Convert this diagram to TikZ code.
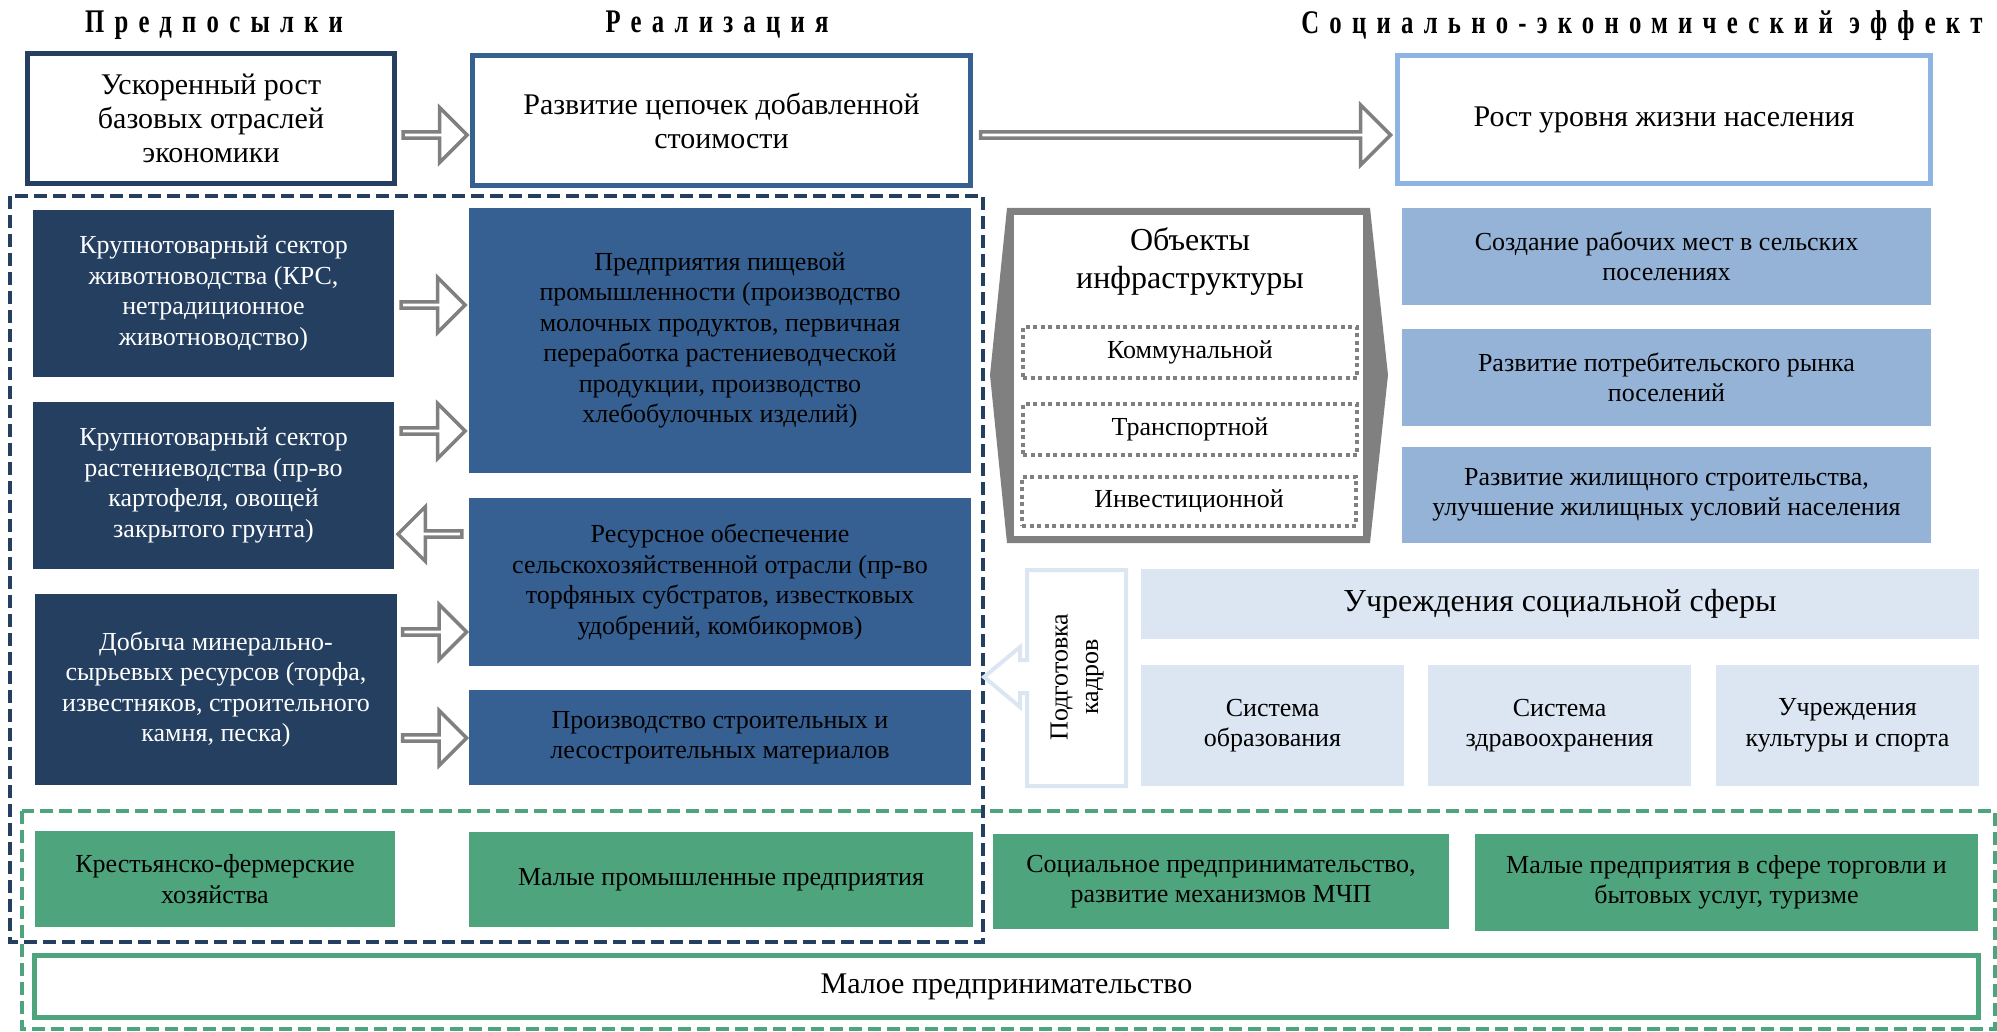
\documentclass[tikz,border=0pt]{standalone}
\usepackage{fontspec}
\setmainfont{Liberation Serif}
\newfontfamily\headfont[LetterSpace=31,FakeStretch=0.75]{Liberation Serif}
\usepackage{tikz}
\usetikzlibrary{shapes.arrows}
\usetikzlibrary{calc}

\definecolor{navy}{HTML}{243F60}
\definecolor{midblue}{HTML}{376092}
\definecolor{skyblue}{HTML}{95B3D7}
\definecolor{paleblue}{HTML}{DCE6F2}
\definecolor{rimblue}{HTML}{8DB4E2}
\definecolor{leafgreen}{HTML}{4EA47C}
\definecolor{arrowgray}{HTML}{808080}

\newcommand{\bodyfont}{\fontsize{26}{30.5}\selectfont}
\newcommand{\bigfont}{\fontsize{30}{34}\selectfont}

\begin{document}
\begin{tikzpicture}[x=1pt, y=-1pt,
  heading/.style={font=\headfont\bfseries\fontsize{33}{36}\selectfont, inner sep=0pt},
  topbox/.style={draw, line width=5pt, fill=white, align=center, inner sep=0pt, font=\bigfont},
  darkbox/.style={fill=navy, text=white, align=center, inner sep=0pt, font=\bodyfont},
  bluebox/.style={fill=midblue, align=center, inner sep=0pt, font=\bodyfont},
  skybox/.style={fill=skyblue, align=center, inner sep=0pt, font=\bodyfont},
  palebox/.style={fill=paleblue, align=center, inner sep=0pt, font=\bodyfont},
  greenbox/.style={fill=leafgreen, align=center, inner sep=0pt, font=\bodyfont},
  dotbox/.style={draw=arrowgray, line width=4pt, dash pattern=on 4pt off 3.5pt, align=center, inner sep=0pt, font=\bodyfont},
  blockarrow/.style={single arrow, draw=arrowgray, fill=white, line width=3.5pt, inner sep=0pt, minimum width=55pt, minimum height=64pt, single arrow head extend=14pt}
]

\useasboundingbox (0,0) rectangle (1997,1032);

% Column headings
\node[heading] (h1) at (214,25) {Предпосылки};
\node[heading] (h2) at (717,25) {Реализация};
\node[heading] (h3) at (1642,26) {Социально-экономический эффект};

% Top row
\node[topbox, draw=navy, minimum width=367pt, minimum height=130pt] (b1) at (211,118.5) {Ускоренный рост\\базовых отраслей\\экономики};
\node[topbox, draw=midblue, minimum width=498pt, minimum height=130pt] (b2) at (721.5,120.5) {Развитие цепочек добавленной\\стоимости};
\node[topbox, draw=rimblue, minimum width=533pt, minimum height=128pt] (b3) at (1664,119.5) {Рост уровня жизни населения};

\path (b1.east |- 0,135) -- node[blockarrow] (a1) {} (b2.west |- 0,135);
\path (b2.east |- 0,135) -- node[blockarrow, minimum height=410pt, minimum width=60pt, single arrow head extend=14.5pt] (a2) {} (b3.west |- 0,135);

% Dashed frames
\draw[leafgreen, line width=4pt, dash pattern=on 13pt off 6pt] (22,811) rectangle (1995,1029);
\draw[navy, line width=4.5pt, dash pattern=on 13pt off 6pt] (10,196) rectangle (983,942);

% Base sectors
\node[darkbox, minimum width=361pt, minimum height=167pt] (d1) at (213.5,293.5) {Крупнотоварный сектор\\животноводства (КРС,\\нетрадиционное\\животноводство)};
\node[darkbox, minimum width=361pt, minimum height=167pt] (d2) at (213.5,485.5) {Крупнотоварный сектор\\растениеводства (пр-во\\картофеля, овощей\\закрытого грунта)};
\node[darkbox, minimum width=362pt, minimum height=191pt] (d3) at (216,689.5) {Добыча минерально-\\сырьевых ресурсов (торфа,\\известняков, строительного\\камня, песка)};

% Value chains
\node[bluebox, minimum width=502pt, minimum height=265pt] (e1) at (720,340.5) {Предприятия пищевой\\промышленности (производство\\молочных продуктов, первичная\\переработка растениеводческой\\продукции, производство\\хлебобулочных изделий)};
\node[bluebox, minimum width=502pt, minimum height=168pt] (e2) at (720,582) {Ресурсное обеспечение\\сельскохозяйственной отрасли (пр-во\\торфяных субстратов, известковых\\удобрений, комбикормов)};
\node[bluebox, minimum width=502pt, minimum height=95pt] (e3) at (720,737.5) {Производство строительных и\\лесостроительных материалов};

\foreach \lft/\rgt/\yy/\rot in {d1/e1/305/0, d2/e1/431/0, d2/e2/534/180, d3/e2/632/0, d3/e3/738/0}
{
    \path (\lft.east |- 0,\yy) -- node[blockarrow, rotate=\rot] (arr\yy) {} (\rgt.west |- 0,\yy);
}

% Infrastructure
\fill[arrowgray] (1007,208) -- (1370,208) -- (1388,375) -- (1370,543) -- (1007,543) -- (990,375) -- cycle;
\fill[white] (1014,215) rectangle (1363,536);
\node[font=\fontsize{32}{38}\selectfont, align=center] (obj) at (1190,262) {Объекты\\инфраструктуры};
\node[dotbox, minimum width=334pt, minimum height=51pt] (k) at (1190,352.5) {Коммунальной};
\node[dotbox, minimum width=334pt, minimum height=51pt] (t) at (1190,429.5) {Транспортной};
\node[dotbox, minimum width=334pt, minimum height=49pt] (i) at (1189,501) {Инвестиционной};

% Effects
\node[skybox, minimum width=529pt, minimum height=97pt] (s1) at (1666.5,256.5) {Создание рабочих мест в сельских\\поселениях};
\node[skybox, minimum width=529pt, minimum height=97pt] (s2) at (1666.5,377.5) {Развитие потребительского рынка\\поселений};
\node[skybox, minimum width=529pt, minimum height=96pt] (s3) at (1666.5,495) {Развитие жилищного строительства,\\улучшение жилищных условий населения};

% Social sphere
\draw[paleblue, line width=4pt, fill=white] (1027,570) -- (1126,570) -- (1126,786) -- (1027,786) -- (1027,693) -- (1020,693) -- (1020,707) -- (984,677) -- (1020,647) -- (1020,660) -- (1027,660) -- cycle;
\node[rotate=90, align=center, font=\bodyfont] (pk) at (1077,677) {Подготовка\\кадров};

\node[palebox, font=\fontsize{32}{36}\selectfont, minimum width=838pt, minimum height=70pt] (u) at (1560,604) {Учреждения социальной сферы};
\node[palebox, minimum width=263pt, minimum height=121pt] (u1) at (1272.5,725.5) {Система\\образования};
\node[palebox, minimum width=263pt, minimum height=121pt] (u2) at (1559.5,725.5) {Система\\здравоохранения};
\node[palebox, minimum width=263pt, minimum height=121pt] (u3) at (1847.5,725.5) {Учреждения\\культуры и спорта};

% Small business
\node[greenbox, minimum width=360pt, minimum height=96pt] (g1) at (215,879) {Крестьянско-фермерские\\хозяйства};
\node[greenbox, minimum width=504pt, minimum height=95pt] (g2) at (721,879.5) {Малые промышленные предприятия};
\node[greenbox, minimum width=456pt, minimum height=95pt] (g3) at (1221,881.5) {Социальное предпринимательство,\\развитие механизмов МЧП};
\node[greenbox, minimum width=503pt, minimum height=97pt] (g4) at (1726.5,882.5) {Малые предприятия в сфере торговли и\\бытовых услуг, туризме};
\node[topbox, draw=leafgreen, minimum width=1944pt, minimum height=62pt] (m) at (1006.5,986.5) {Малое предпринимательство};

\end{tikzpicture}
\end{document}
